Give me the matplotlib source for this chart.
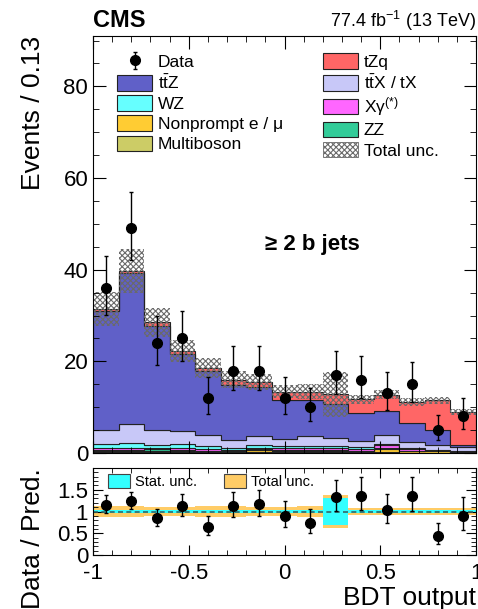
import numpy as np
import matplotlib
matplotlib.use("Agg")
import matplotlib.pyplot as plt
from matplotlib.patches import Patch
from matplotlib.ticker import MultipleLocator, FormatStrFormatter

plt.rcParams['font.family'] = ['Liberation Sans', 'DejaVu Sans']
plt.rcParams['mathtext.fontset'] = 'custom'
plt.rcParams['mathtext.rm'] = 'Liberation Sans'
plt.rcParams['mathtext.it'] = 'Liberation Sans:italic'
plt.rcParams['mathtext.bf'] = 'Liberation Sans:bold'
plt.rcParams['hatch.linewidth'] = 0.8
plt.rcParams['axes.unicode_minus'] = True

# 15 bins of BDT output between -1 and 1
edges = np.linspace(-1, 1, 16)

# observed events
data = [36, 49, 24, 25, 12, 18, 18, 12, 10, 17, 16, 13, 15, 5, 8]
data_lo = [5.97, 6.98, 4.86, 4.97, 3.44, 4.20, 4.20, 3.44, 3.11, 4.08, 3.96, 3.56, 3.83, 2.16, 2.77]
data_hi = [7.06, 8.05, 5.96, 6.06, 4.61, 5.32, 5.32, 4.61, 4.26, 5.20, 5.08, 4.71, 4.96, 3.38, 3.95]

# predicted yields, stacked bottom -> top
multiboson = [0.3, 0.3, 0.3, 0.3, 0.2, 0.2, 0.2, 0.2, 0.2, 0.2, 0.2, 0.2, 0.1, 0.1, 0.1]
nonprompt = [0.2, 0.2, 0.2, 0.1, 0.1, 0.1, 0.5, 0.2, 0.2, 0.3, 0.2, 0.6, 0.3, 0.4, 0.1]
zz = [0.2, 0.2, 0.3, 0.2, 0.2, 0.1, 0.2, 0.2, 0.2, 0.1, 0.1, 0.2, 0.1, 0.05, 0.05]
xgamma = [0.4, 0.5, 0.3, 0.6, 0.3, 0.2, 0.3, 0.4, 0.4, 0.4, 0.3, 0.7, 0.3, 0.1, 0.1]
wz = [0.8, 1.0, 0.7, 0.8, 0.8, 0.4, 0.6, 0.5, 0.6, 0.5, 0.6, 0.3, 0.2, 0.1, 0.1]
ttx = [3.1, 4.1, 3.2, 2.8, 2.3, 1.8, 1.9, 1.5, 2.1, 1.8, 1.2, 1.9, 1.4, 1.05, 0.8]
ttz = [26.0, 32.9, 22.8, 16.8, 13.9, 12.0, 10.6, 8.5, 7.8, 7.3, 6.2, 5.3, 4.2, 3.2, 0.45]
tzq = [0.4, 0.5, 0.7, 0.7, 0.8, 1.2, 1.2, 1.9, 1.9, 2.2, 2.9, 3.5, 4.5, 6.5, 7.3]

# relative uncertainties on the prediction
total_rel = [0.12, 0.12, 0.11, 0.11, 0.12, 0.12, 0.11, 0.10, 0.12, 0.38, 0.09, 0.08, 0.08, 0.07, 0.07]
stat_rel = [0.03, 0.03, 0.03, 0.03, 0.03, 0.03, 0.03, 0.03, 0.03, 0.31, 0.03, 0.03, 0.03, 0.03, 0.03]

stack = [
    (multiboson, '#cccc66', 'Multiboson'),
    (nonprompt, '#ffcc33', r'Nonprompt e / μ'),
    (zz, '#33cc99', 'ZZ'),
    (xgamma, '#ff66ff', r'Xγ$^{(*)}$'),
    (wz, '#66ffff', 'WZ'),
    (ttx, '#c8c8f8', r't$\bar{\mathrm{t}}$X / tX'),
    (ttz, '#6060c8', r't$\bar{\mathrm{t}}$Z'),
    (tzq, '#ff6666', 'tZq'),
]

centers = 0.5 * (edges[:-1] + edges[1:])
data = np.array(data, dtype=float)
yerr = np.array([data_lo, data_hi])

fig = plt.figure(figsize=(4.78, 6.09), dpi=100)
ax = fig.add_axes([93 / 478, 1 - 453 / 609, 383 / 478, 417 / 609])
rax = fig.add_axes([93 / 478, 1 - 555 / 609, 383 / 478, 87 / 609])

# stacked histograms
base = np.zeros(15)
handles = {}
for vals, col, lab in stack:
    vals = np.array(vals)
    ax.stairs(base + vals, edges, baseline=base, fill=True,
              facecolor=col, edgecolor='#222222', linewidth=0.8)
    handles[lab] = Patch(facecolor=col, edgecolor='#222222', linewidth=0.8)
    base = base + vals
total = base

# total uncertainty band
tot_rel = np.array(total_rel)
ax.stairs(total * (1 + tot_rel), edges, baseline=total * (1 - tot_rel), fill=True,
          facecolor='none', edgecolor='#6a6a6a', hatch='xxxxxx', linewidth=0)
unc_handle = Patch(facecolor='white', edgecolor='#6a6a6a', hatch='xxxxxx', linewidth=0.6)

eb = ax.errorbar(centers, data, yerr=yerr, fmt='o', color='black', markersize=7,
                 elinewidth=1, capsize=1.5, capthick=1)

ax.set_xlim(-1, 1)
ax.set_ylim(0, 91)
ax.set_ylabel('Events / 0.13', fontsize=19, loc='top')
ax.yaxis.set_label_coords(-0.125, 1.0)
ax.xaxis.set_major_locator(MultipleLocator(0.5))
ax.xaxis.set_minor_locator(MultipleLocator(0.1))
ax.yaxis.set_major_locator(MultipleLocator(20))
ax.yaxis.set_minor_locator(MultipleLocator(5))
ax.tick_params(axis='x', labelbottom=False)
ax.tick_params(which='both', direction='in', top=True, right=True, labelsize=16)
ax.tick_params(which='major', length=9)
ax.tick_params(which='minor', length=4.5)

ax.text(0.574, 0.499, '≥ 2 b jets', transform=ax.transAxes, fontsize=16,
        fontweight='bold', ha='center', va='center')

leg_handles = [eb, handles[r't$\bar{\mathrm{t}}$Z'], handles['WZ'],
               handles[r'Nonprompt e / μ'], handles['Multiboson'],
               handles['tZq'], handles[r't$\bar{\mathrm{t}}$X / tX'],
               handles[r'Xγ$^{(*)}$'], handles['ZZ'], unc_handle]
leg_labels = ['Data', r't$\bar{\mathrm{t}}$Z', 'WZ', r'Nonprompt e / μ', 'Multiboson',
              'tZq', r't$\bar{\mathrm{t}}$X / tX', r'Xγ$^{(*)}$', 'ZZ', 'Total unc.']
ax.legend(leg_handles, leg_labels, ncol=2, loc='upper left',
          bbox_to_anchor=(0.045, 0.975), frameon=False, fontsize=12.5,
          handlelength=2.0, handleheight=1.0, handletextpad=0.35,
          columnspacing=2.3, labelspacing=0.2, borderaxespad=0)

fig.text(93 / 478, 1 - 27 / 609, 'CMS', fontsize=17, fontweight='bold',
         ha='left', va='baseline')
fig.text(476 / 478, 1 - 27 / 609, r'77.4 fb$^{-1}$ (13 TeV)', fontsize=13,
         ha='right', va='baseline')

# ratio panel
st_rel = np.array(stat_rel)
rax.stairs(1 + tot_rel, edges, baseline=1 - tot_rel, fill=True,
           facecolor='#ffcc66', edgecolor='none')
rax.stairs(1 + st_rel, edges, baseline=1 - st_rel, fill=True,
           facecolor='#33ffff', edgecolor='none')
rax.axhline(1, color='#336666', linestyle=(0, (3, 2)), linewidth=1.2)
rax.errorbar(centers, data / total, yerr=yerr / total, fmt='o', color='black',
             markersize=7, elinewidth=1, capsize=1.5, capthick=1)

rax.set_xlim(-1, 1)
rax.set_ylim(0, 2)
rax.set_yticks([0, 0.5, 1, 1.5])
rax.yaxis.set_major_formatter(FormatStrFormatter('%g'))
rax.xaxis.set_major_formatter(FormatStrFormatter('%g'))
rax.xaxis.set_major_locator(MultipleLocator(0.5))
rax.xaxis.set_minor_locator(MultipleLocator(0.1))
rax.yaxis.set_minor_locator(MultipleLocator(0.1))
rax.tick_params(which='both', direction='in', top=True, right=True, labelsize=16)
rax.tick_params(axis='x', pad=6)
rax.tick_params(which='major', length=7)
rax.tick_params(which='minor', length=3.5)
rax.set_ylabel('Data / Pred.', fontsize=19, loc='top')
rax.yaxis.set_label_coords(-0.125, 1.0)
rax.set_xlabel('BDT output', fontsize=19, loc='right')
rax.xaxis.set_label_coords(1.0, -0.36)

rax.legend([Patch(facecolor='#33ffff', edgecolor='#444444', linewidth=0.8),
            Patch(facecolor='#ffcc66', edgecolor='#444444', linewidth=0.8)],
           ['Stat. unc.', 'Total unc.'], ncol=2, loc='upper left',
           bbox_to_anchor=(0.025, 1.0), frameon=False, fontsize=10.5,
           handlelength=1.5, handleheight=1.1, handletextpad=0.3,
           columnspacing=1.9, borderaxespad=0)

fig.savefig('out.png', dpi=100)
